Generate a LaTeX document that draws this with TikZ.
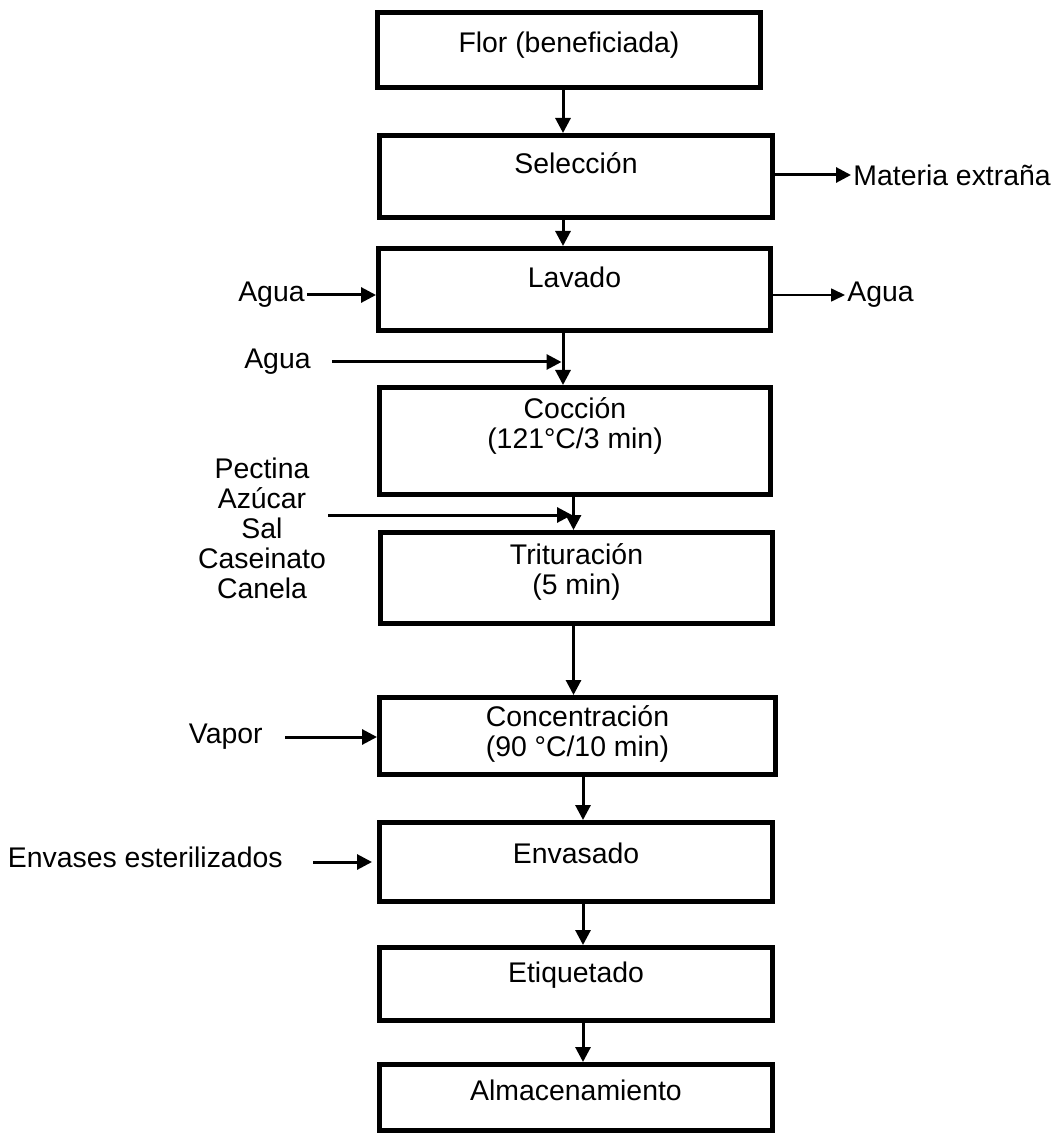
\documentclass[tikz,border=0pt]{standalone}
\usepackage{fontspec}
\setmainfont{Liberation Sans}
\usetikzlibrary{arrows.meta}
\begin{document}
\begin{tikzpicture}[x=0.5pt, y=-0.5pt,
      every node/.append style={font=\fontsize{14.2}{15}\selectfont},
      proc/.style={draw=black, line width=2.5pt, inner sep=0pt},
      txt/.style={inner sep=1pt, align=center},
      flow/.style={-{Triangle[length=7.5pt, width=7.5pt]}, line width=1.5pt},
      thinflow/.style={-{Triangle[length=7pt, width=6.5pt]}, line width=0.8pt}]
    \useasboundingbox (0,0) rectangle (1063,1138);

    % ---------------- process steps ----------------
    \node[proc, minimum width=191.5pt, minimum height=37.5pt, label={[txt, yshift=2.5pt]center:Flor (beneficiada)}] (flor) at (569,50) {};
    \node[proc, minimum width=196.5pt, minimum height=41pt, label={[txt, yshift=6.75pt]center:Selección}] (sel) at (576,176.5) {};
    \node[proc, minimum width=196pt, minimum height=41pt, label={[txt, yshift=6.25pt]center:Lavado}] (lav) at (574.5,289.5) {};
    \node[proc, minimum width=195.5pt, minimum height=53.5pt, label={[txt, yshift=7.5pt]center:{Cocción\\(121°C/3 min)}}] (coc) at (575,441) {};
    \node[proc, minimum width=196pt, minimum height=45.5pt, label={[txt, yshift=3.25pt]center:{Trituración\\(5 min)}}] (tri) at (576.5,578) {};
    \node[proc, minimum width=198pt, minimum height=38.5pt, label={[txt, yshift=1pt]center:{Concentración\\(90 °C/10 min)}}] (conc) at (577.5,736) {};
    \node[proc, minimum width=196.5pt, minimum height=39.5pt, label={[txt, yshift=4.5pt]center:Envasado}] (env) at (576,862) {};
    \node[proc, minimum width=196.5pt, minimum height=36.5pt, label={[txt, yshift=4.5pt]center:Etiquetado}] (eti) at (576,984) {};
    \node[proc, minimum width=196.5pt, minimum height=33pt, label={[txt, yshift=3.75pt]center:Almacenamiento}] (alm) at (576,1097.5) {};

    % columns of the main line
    \coordinate (c1) at (563,0);
    \coordinate (c2) at (573.5,0);
    \coordinate (c3) at (583,0);

    \draw[flow] (flor.south -| c1) -- (sel.north -| c1);
    \draw[flow] (sel.south -| c1) -- (lav.north -| c1);
    \draw[flow] (lav.south -| c1) -- (coc.north -| c1);
    \draw[flow] (coc.south -| c2) -- (tri.north -| c2);
    \draw[flow] (tri.south -| c2) -- (conc.north -| c2);
    \foreach \a/\b in {conc/env, env/eti, eti/alm}
      \draw[flow] (\a.south -| c3) -- (\b.north -| c3);

    % ---------------- outputs ----------------
    \node[txt, anchor=west] (mat) at (851,175) {Materia extraña};
    \draw[flow] (sel.east |- mat) -- (mat.west);
    \node[txt, anchor=west] (aguaout) at (845,295) {Agua};
    \draw[thinflow] (lav.east |- aguaout) -- (aguaout.west);

    % ---------------- inputs ----------------
    \node[txt, anchor=east] (aguain) at (307,295) {Agua};
    \draw[flow] (aguain.east) -- (aguain.east -| lav.west);

    \node[txt, anchor=east] (aguacoc) at (313,362) {Agua};
    \coordinate (aguacocin) at (332,362);
    \draw[flow, shorten >=0.75pt] (aguacocin) -- (aguacocin -| c1);

    \node[txt] (ing) at (262,528) {Pectina\\Azúcar\\Sal\\Caseinato\\Canela};
    \coordinate (ingin) at (328,515);
    \draw[flow, shorten >=0.75pt] (ingin) -- (ingin -| c2);

    \node[txt, anchor=east] (vapor) at (265,737) {Vapor};
    \coordinate (vaporin) at (285,737);
    \draw[flow] (vaporin) -- (vaporin -| conc.west);

    \node[txt, anchor=east] (envases) at (285,857) {Envases esterilizados};
    \coordinate (envasesin) at (313,862);
    \draw[flow, shorten >=2.5pt] (envasesin) -- (envasesin -| env.west);
  \end{tikzpicture}
\end{document}
